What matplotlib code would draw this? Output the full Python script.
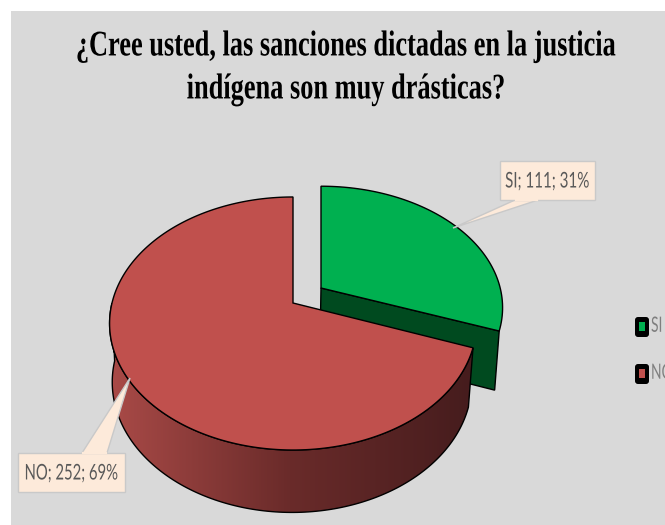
"""Exploded 3D-looking pie: sanciones en la justicia indigena."""

import matplotlib

matplotlib.use("Agg")

import matplotlib.pyplot as plt
import numpy as np
from matplotlib.colors import LinearSegmentedColormap
from matplotlib.patches import Polygon, Rectangle, FancyBboxPatch
from matplotlib.patheffects import AbstractPathEffect
from matplotlib.transforms import Affine2D

# data
title_lines = ["¿Cree usted, las sanciones dictadas en la justicia",
               "indígena son muy drásticas?"]
categories = ["SI", "NO"]
values = [111, 252]

# colours
BG = "#d9d9d9"
TOP_COLORS = ["#00b050", "#c0504d"]
GREEN_FACE = "#004a1f"
LABEL_BG = "#fdeada"
LABEL_EDGE = "#c9c9c9"
WALL_CMAP = LinearSegmentedColormap.from_list(
    "wall", ["#ab4b48", "#6a2b2a", "#451c1d"])

# pie geometry in pixels
HEIGHT = 525
CX, CY = 293, 303
RADIUS = 181
TILT = 123.2
PERSP = 0.162
BOT_CX, BOT_CY = 292, 361
BOT_FX, BOT_FY = 0.98, 1.03
EXPLODE = (28, -15)
GREEN_FX, GREEN_FY = 0.99, 0.96


class Squash(AbstractPathEffect):
    """Stretch text about a point, the source picture was squashed sideways."""

    def __init__(self, sx, sy, x0, y0):
        super().__init__()
        self.matrix = Affine2D().translate(-x0, -y0).scale(sx, sy).translate(x0, y0)

    def draw_path(self, renderer, gc, tpath, affine, rgbFace=None):
        renderer.draw_path(gc, tpath, affine + self.matrix, rgbFace)


def project(theta, cx=CX, cy=CY, fx=1.0, fy=1.0):
    """Clockwise angle from 12 o'clock (degrees) to pixel position."""
    t = np.radians(theta)
    x, y = np.sin(t), np.cos(t)
    d = 1 + PERSP * y
    return cx + fx * RADIUS * x / d, cy - fy * TILT * y / d


def squashed_text(ax, x, y, s, sx, sy, ha="center", **kw):
    # axes units are pixels, so display y is just flipped
    txt = ax.text(x, y, s, ha=ha, va="center", **kw)
    txt.set_path_effects([Squash(sx, sy, x, HEIGHT - y)])
    return txt


def callout(ax, box, base, tip):
    x0, y0, x1, y1 = box
    ax.add_patch(Polygon([(base[0], base[2]), tip, (base[1], base[2])],
                         fc=LABEL_BG, ec=LABEL_EDGE, lw=1, zorder=6))
    ax.add_patch(Rectangle((x0, y0), x1 - x0, y1 - y0,
                           fc=LABEL_BG, ec=LABEL_EDGE, lw=1, zorder=6))
    # hide the seam between the box and its pointer
    ax.plot([base[0] + 1, base[1] - 1], [base[2], base[2]],
            color=LABEL_BG, lw=1.6, zorder=7)


def main() -> None:
    fig = plt.figure(figsize=(6.65, 5.25), dpi=100, facecolor="white")
    ax = fig.add_axes([0, 0, 1, 1])
    ax.set_xlim(0, 665)
    ax.set_ylim(HEIGHT, 0)
    ax.axis("off")
    ax.add_patch(Rectangle((11, 11), 654, 514, fc=BG, ec="none", zorder=0))

    total = sum(values)
    split = 360 * values[0] / total

    # green slice: cut face below, top above
    dx, dy = EXPLODE
    th_g = np.linspace(0, split, 80)
    gx, gy = project(th_g, CX + dx, CY + dy, GREEN_FX, GREEN_FY)
    face_top = project(split, CX + dx, CY + dy, GREEN_FX, GREEN_FY)
    face_bot = project(split, BOT_CX + dx, BOT_CY + dy - 2, BOT_FX * GREEN_FX, BOT_FY)
    tip_bot = (BOT_CX + dx, BOT_CY + dy)
    ax.add_patch(Polygon([(CX + dx, CY + dy), face_top, face_bot, tip_bot],
                         fc=GREEN_FACE, ec="black", lw=1, zorder=2))
    ax.add_patch(Polygon(list(zip(gx, gy)) + [(CX + dx, CY + dy)],
                         fc=TOP_COLORS[0], ec="black", lw=1, zorder=3))

    # red slice: outer wall with horizontal gradient, then top
    th_wall = np.linspace(split, 270, 160)
    wx, wy = project(th_wall)
    bx, by = project(th_wall, BOT_CX, BOT_CY, BOT_FX, BOT_FY)
    wall = Polygon(list(zip(wx, wy)) + list(zip(bx[::-1], by[::-1])),
                   fc="none", ec="black", lw=1, zorder=5)
    ax.add_patch(wall)
    grad = ax.imshow(np.linspace(0, 1, 256)[None, :], cmap=WALL_CMAP,
                     extent=(105, 475, 520, 300), aspect="auto", zorder=4)
    grad.set_clip_path(wall)
    ax.set_xlim(0, 665)
    ax.set_ylim(HEIGHT, 0)

    th_r = np.linspace(split, 360, 200)
    rx, ry = project(th_r)
    ax.add_patch(Polygon(list(zip(rx, ry)) + [(CX, CY)],
                         fc=TOP_COLORS[1], ec="black", lw=1, zorder=5))

    # title
    for line, y in zip(title_lines, [47, 90]):
        squashed_text(ax, 346, y, line, 0.949, 1.3, family="Liberation Serif",
                      weight="bold", fontsize=20, color="black", zorder=8)

    # data labels
    labels = [f"{c}; {v}; {round(100 * v / total)}%" for c, v in zip(categories, values)]
    callout(ax, (500, 161, 595, 200), (515, 538, 200), (453, 228))
    squashed_text(ax, 547, 181, labels[0], 0.91, 1.3, family="Lato",
                  fontsize=12, color="#595959", zorder=8)
    callout(ax, (18, 453, 125, 492), (82, 107, 453), (130, 378))
    squashed_text(ax, 71, 473, labels[1], 0.89, 1.3, family="Lato",
                  fontsize=12, color="#595959", zorder=8)

    # legend, cut off by the right edge as in the source
    for cat, col, y in zip(categories, TOP_COLORS, [327, 374]):
        ax.add_patch(FancyBboxPatch((637, y - 8), 10, 16, boxstyle="round,pad=2,rounding_size=3",
                                    fc="black", ec="none", zorder=3))
        ax.add_patch(Rectangle((639, y - 5), 6, 9, fc=col, ec="none", zorder=4))
        squashed_text(ax, 651, y - 1, cat, 0.95, 1.45, ha="left", family="Lato",
                      fontsize=10.5, color="#7f7f7f", zorder=4)

    fig.savefig("out.png", dpi=100)
    plt.close(fig)


if __name__ == "__main__":
    main()
